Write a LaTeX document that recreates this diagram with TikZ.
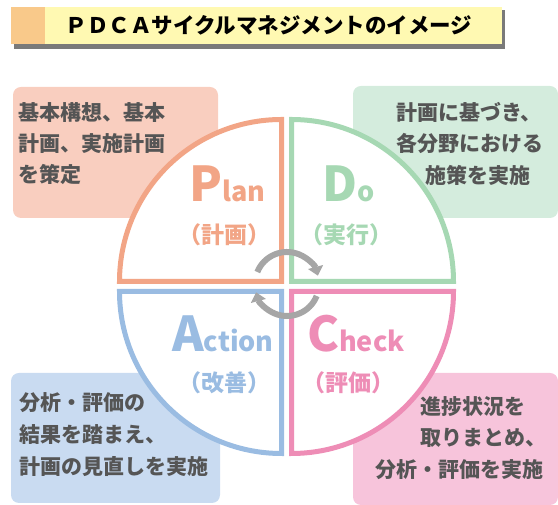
\documentclass[tikz,border=0pt]{standalone}
\usepackage{fontspec}
\setmainfont{Noto Sans CJK JP}
\usetikzlibrary{arrows.meta}
\definecolor{plancol}{HTML}{F2A586}
\definecolor{docol}{HTML}{A6D8B3}
\definecolor{actcol}{HTML}{9ABCE2}
\definecolor{chkcol}{HTML}{EE8DB6}
\definecolor{planbox}{HTML}{F9CEBF}
\definecolor{dobox}{HTML}{D4ECDD}
\definecolor{actbox}{HTML}{C9DBF1}
\definecolor{chkbox}{HTML}{F7C4DB}
\definecolor{txtgray}{HTML}{555555}
\definecolor{arrowgray}{HTML}{A6A6A6}
\definecolor{titleyellow}{HTML}{FFF9B2}
\definecolor{titleorange}{HTML}{F9C98A}
\definecolor{shadowgray}{HTML}{7A7A7A}
\begin{document}
\begin{tikzpicture}[x=1pt,y=1pt,
  quad/.style={line width=5pt, fill=white, line join=miter},
  infobox/.style={rounded corners=8pt},
  boxtxt/.style={inner sep=0pt, text=txtgray, font=\fontsize{21}{21}\selectfont\bfseries},
  sub/.style={inner sep=0pt, font=\fontsize{23}{23}\selectfont\bfseries},
  big/.style={inner sep=0pt, anchor=base west, font=\bfseries},
  cyc/.style={draw=arrowgray, line width=6pt, -{Triangle[length=9pt,width=15pt]}}]
\useasboundingbox (0,0) rectangle (558,505);

% title
\fill[shadowgray] (14,456) rectangle (505,495);
\fill[titleyellow] (11,461) rectangle (502,498);
\fill[titleorange] (11,461) rectangle (45,498);
\node[inner sep=0pt, font=\fontsize{21.5}{21.5}\selectfont\bfseries] (title) at (269,479.5) {ＰＤＣＡサイクルマネジメントのイメージ};

% info boxes
\fill[planbox, infobox] (13,287) rectangle (218,418);
\fill[dobox, infobox] (353,287) rectangle (558,419);
\fill[actbox, infobox] (11,2) rectangle (220,132);
\fill[chkbox, infobox] (353,0) rectangle (558,132);

% quadrants
\draw[quad, draw=plancol] (281.5,223.5) -- (119.5,223.5) arc[start angle=180, end angle=90, radius=162] -- cycle;
\draw[quad, draw=docol] (291.5,223.5) -- (291.5,385.5) arc[start angle=90, end angle=0, radius=162] -- cycle;
\draw[quad, draw=actcol] (281.5,213.5) -- (119.5,213.5) arc[start angle=180, end angle=270, radius=162] -- cycle;
\draw[quad, draw=chkcol] (291.5,213.5) -- (453.5,213.5) arc[start angle=0, end angle=-90, radius=162] -- cycle;

% box texts
\node[boxtxt, anchor=west] (p1) at (18,392) {基本構想、基本};
\node[boxtxt, anchor=west] (p2) at (18,361) {計画、実施計画};
\node[boxtxt, anchor=west] (p3) at (18,330) {を策定};

\node[boxtxt, anchor=west] (d1) at (396,393) {計画に基づき、};
\node[boxtxt, anchor=west] (d2) at (396,362) {各分野における};
\node[boxtxt, anchor=west] (d3) at (425,330) {施策を実施};

\node[boxtxt, anchor=west] (a1) at (19,102) {分析・評価の};
\node[boxtxt, anchor=west] (a2) at (19,70) {結果を踏まえ、};
\node[boxtxt, anchor=west] (a3) at (19,38) {計画の見直しを実施};

\node[boxtxt, anchor=west] (c1) at (420,98) {進捗状況を};
\node[boxtxt, anchor=west] (c2) at (420,67) {取りまとめ、};
\node[boxtxt, anchor=west] (c3) at (375,35) {分析・評価を実施};

% quadrant labels
\node[big, text=plancol] (plan) at (189,303) {\fontsize{48}{48}\selectfont P\fontsize{27}{27}\selectfont lan};
\node[sub, text=plancol] (plansub) at (224,270) {（計画）};
\node[big, text=docol] (do) at (322,303) {\fontsize{48}{48}\selectfont D\fontsize{27}{27}\selectfont o};
\node[sub, text=docol] (dosub) at (346,270) {（実行）};
\node[big, text=actcol] (act) at (172,153) {\fontsize{48}{48}\selectfont A\fontsize{27}{27}\selectfont ction};
\node[sub, text=actcol] (actsub) at (224,122) {（改善）};
\node[big, text=chkcol] (chk) at (307,153) {\fontsize{48}{48}\selectfont C\fontsize{27}{27}\selectfont heck};
\node[sub, text=chkcol] (chksub) at (348,122) {（評価）};

% cycle arrows
\coordinate (cyc) at (287,221);
\draw[cyc] (cyc) ++(158:32) arc[start angle=158, end angle=15, radius=32];
\draw[cyc] (cyc) ++(-22:32) arc[start angle=-22, end angle=-165, radius=32];
\end{tikzpicture}
\end{document}
